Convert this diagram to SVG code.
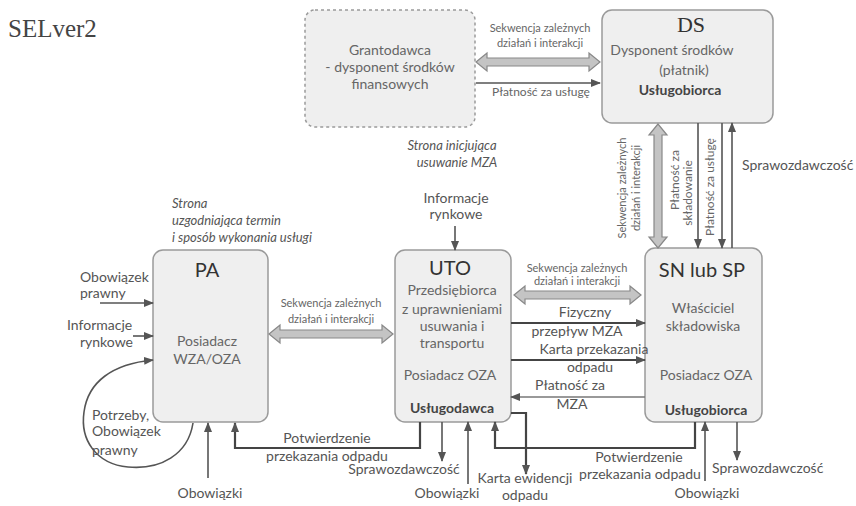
<svg xmlns="http://www.w3.org/2000/svg" width="856" height="506" viewBox="0 0 856 506">
  <defs>
    <marker id="ah" markerUnits="userSpaceOnUse" markerWidth="10" markerHeight="8" refX="9" refY="4" orient="auto">
      <path d="M0,0 L10,4 L0,8 Z" fill="#555"/>
    </marker>
    <style>
      text { font-family: Lato, "Liberation Sans", sans-serif; fill: #555; }
      .box { fill: #efefef; stroke: #9a9a9a; stroke-width: 1.5; }
      .dash { stroke-dasharray: 3 3; }
      .ttl { font-size: 20px; fill: #333; }
      .serif { font-family: "Liberation Serif", serif; }
      .sub { font-size: 14px; fill: #666; }
      .bold { font-size: 14px; font-weight: bold; fill: #444; }
      .lbl { font-size: 14px; fill: #555; }
      .sm { font-size: 11px; fill: #666; }
      .it { font-size: 13px; font-style: italic; fill: #555; }
      .c { text-anchor: middle; }
      .fat { fill: #c4c4c4; stroke: #888; stroke-width: 1.2; }
      .ln { fill: none; stroke: #555; stroke-width: 1.6; }
      .lnk { fill: none; stroke: #444; stroke-width: 2.2; }
      .arr { marker-end: url(#ah); }
    </style>
  </defs>

  <rect width="856" height="506" fill="#fff"/>

  <text x="8" y="37" class="serif" style="font-size:25px;fill:#444">SELver2</text>

  <!-- free-standing annotations -->
  <text x="172" y="208" class="it">Strona</text>
  <text x="172" y="225" class="it">uzgodniająca termin</text>
  <text x="172" y="242" class="it">i sposób wykonania usługi</text>
  <text x="452" y="150" class="it c">Strona  inicjująca</text>
  <text x="457" y="167" class="it c">usuwanie MZA</text>

  <!-- nodes -->
  <g id="grantodawca">
    <rect x="305" y="10" width="170" height="117" rx="10" class="box dash"/>
    <text x="390" y="55" class="sub c">Grantodawca</text>
    <text x="390" y="72" class="sub c">- dysponent środków</text>
    <text x="390" y="89" class="sub c">finansowych</text>
  </g>

  <g id="ds">
    <rect x="602" y="10" width="171" height="113" rx="10" class="box"/>
    <text x="691" y="32" class="ttl serif c" style="font-size:22px">DS</text>
    <text x="672" y="55" class="sub c">Dysponent środków</text>
    <text x="684" y="75" class="sub c">(płatnik)</text>
    <text x="680" y="95" class="bold c">Usługobiorca</text>
  </g>

  <g id="pa">
    <rect x="153" y="250" width="115" height="172" rx="10" class="box"/>
    <text x="207" y="277" class="ttl c">PA</text>
    <text x="207" y="346" class="sub c">Posiadacz</text>
    <text x="207" y="364" class="sub c">WZA/OZA</text>
  </g>

  <g id="uto">
    <rect x="395" y="250" width="116" height="172" rx="10" class="box"/>
    <text x="450" y="275" class="ttl c">UTO</text>
    <text x="452" y="295" class="sub c">Przedsiębiorca</text>
    <text x="452" y="314" class="sub c">z uprawnieniami</text>
    <text x="452" y="331" class="sub c">usuwania i</text>
    <text x="452" y="348" class="sub c">transportu</text>
    <text x="450" y="380" class="sub c">Posiadacz  OZA</text>
    <text x="452" y="413" class="bold c">Usługodawca</text>
  </g>

  <g id="sn">
    <rect x="645" y="248" width="117" height="174" rx="10" class="box"/>
    <text x="702" y="277" class="ttl c">SN lub SP</text>
    <text x="703" y="313" class="sub c">Właściciel</text>
    <text x="703" y="331" class="sub c">składowiska</text>
    <text x="706" y="380" class="sub c">Posiadacz  OZA</text>
    <text x="706" y="415" class="bold c">Usługobiorca</text>
  </g>

  <!-- connectors -->
  <g id="connectors">
    <!-- Grantodawca <-> DS -->
    <path class="fat" d="M476,62 L487,53 L487,58 L589,58 L589,53 L600,62 L589,71 L589,66 L487,66 L487,71 Z"/>
    <text x="540" y="32" class="sm c">Sekwencja zależnych</text>
    <text x="540" y="47" class="sm c">działań i interakcji</text>
    <line x1="476" y1="83" x2="600" y2="83" class="ln arr"/>
    <text x="541" y="96" class="sm c" style="font-size:12px">Płatność za usługę</text>

    <!-- DS <-> SN -->
    <path class="fat" d="M658,124 L649,135 L654,135 L654,237 L649,237 L658,248 L667,237 L662,237 L662,135 L667,135 Z"/>
    <text transform="translate(626,188) rotate(-90)" class="sm c">Sekwencja zależnych</text>
    <text transform="translate(640,188) rotate(-90)" class="sm c">działań i interakcji</text>
    <line x1="698" y1="123" x2="698" y2="248" class="ln arr"/>
    <text transform="translate(679,180) rotate(-90)" class="sm c" style="font-size:12px">Płatność za</text>
    <text transform="translate(692,193) rotate(-90)" class="sm c" style="font-size:12px">składowanie</text>
    <line x1="722" y1="123" x2="722" y2="248" class="ln arr"/>
    <text transform="translate(714,187) rotate(-90)" class="sm c" style="font-size:12px">Płatność za usługę</text>
    <line x1="732" y1="248" x2="732" y2="123" class="ln arr"/>
    <text x="742" y="170" class="lbl">Sprawozdawczość</text>

    <!-- PA <-> UTO -->
    <path class="fat" d="M269,334 L280,325 L280,330 L382,330 L382,325 L393,334 L382,343 L382,338 L280,338 L280,343 Z"/>
    <text x="331" y="307" class="sm c">Sekwencja zależnych</text>
    <text x="331" y="323" class="sm c">działań i interakcji</text>

    <!-- UTO <-> SN -->
    <path class="fat" d="M514,295 L525,286 L525,291 L630,291 L630,286 L641,295 L630,304 L630,299 L525,299 L525,304 Z"/>
    <text x="577" y="272" class="sm c">Sekwencja zależnych</text>
    <text x="577" y="285" class="sm c">działań i interakcji</text>

    <line x1="511" y1="323" x2="645" y2="323" class="lnk arr"/>
    <text x="585" y="317" class="lbl c">Fizyczny</text>
    <text x="577" y="336" class="lbl c">przepływ MZA</text>

    <line x1="511" y1="360" x2="645" y2="360" class="lnk arr"/>
    <text x="594" y="354" class="lbl c">Karta przekazania</text>
    <text x="590" y="372" class="lbl c">odpadu</text>

    <line x1="645" y1="397" x2="511" y2="397" class="ln arr" style="stroke:#777"/>
    <text x="570" y="390" class="lbl c">Płatność za</text>
    <text x="572" y="409" class="lbl c">MZA</text>

    <!-- PA inputs -->
    <text x="80" y="282" class="lbl">Obowiązek</text>
    <text x="80" y="298" class="lbl">prawny</text>
    <line x1="100" y1="303" x2="153" y2="303" class="ln arr"/>
    <text x="67" y="330" class="lbl">Informacje</text>
    <text x="80" y="347" class="lbl">rynkowe</text>
    <line x1="133" y1="336" x2="153" y2="336" class="ln arr"/>
    <path class="ln arr" d="M193,423 C188,455 160,470 128,467 C96,464 80,440 84,412 C88,382 112,364 153,360"/>
    <text x="92" y="420" class="lbl">Potrzeby,</text>
    <text x="92" y="436" class="lbl">Obowiązek</text>
    <text x="92" y="455" class="lbl">prawny</text>

    <!-- below PA -->
    <line x1="208" y1="478" x2="208" y2="423" class="ln arr"/>
    <text x="210" y="498" class="lbl c">Obowiązki</text>

    <!-- UTO -> PA confirmation -->
    <path class="lnk arr" d="M420,422 L420,448 L235,448 L235,423"/>
    <text x="327" y="443" class="lbl c">Potwierdzenie</text>
    <text x="327" y="461" class="lbl c">przekazania  odpadu</text>

    <!-- below UTO -->
    <line x1="442" y1="422" x2="442" y2="461" class="ln arr"/>
    <text x="404" y="474" class="lbl c">Sprawozdawczość</text>
    <line x1="468" y1="484" x2="468" y2="422" class="ln arr"/>
    <text x="447" y="498" class="lbl c">Obowiązki</text>

    <!-- SN -> UTO confirmation -->
    <path class="lnk arr" d="M695,422 L695,448 L495,448 L495,422"/>
    <text x="639" y="462" class="lbl c">Potwierdzenie</text>
    <text x="640" y="479" class="lbl c">przekazania  odpadu</text>

    <!-- waste record card -->
    <path class="lnk arr" d="M511,413 L526,413 L526,474"/>
    <text x="525" y="483" class="lbl c">Karta  ewidencji</text>
    <text x="525" y="500" class="lbl c">odpadu</text>

    <!-- below SN -->
    <line x1="705" y1="481" x2="705" y2="422" class="ln arr"/>
    <text x="707" y="498" class="lbl c">Obowiązki</text>
    <line x1="737" y1="422" x2="737" y2="460" class="ln arr"/>
    <text x="712" y="473" class="lbl">Sprawozdawczość</text>

    <!-- market info into UTO -->
    <text x="456" y="203" class="lbl c">Informacje</text>
    <text x="456" y="219" class="lbl c">rynkowe</text>
    <line x1="455" y1="226" x2="455" y2="250" class="ln arr"/>
  </g>
</svg>
